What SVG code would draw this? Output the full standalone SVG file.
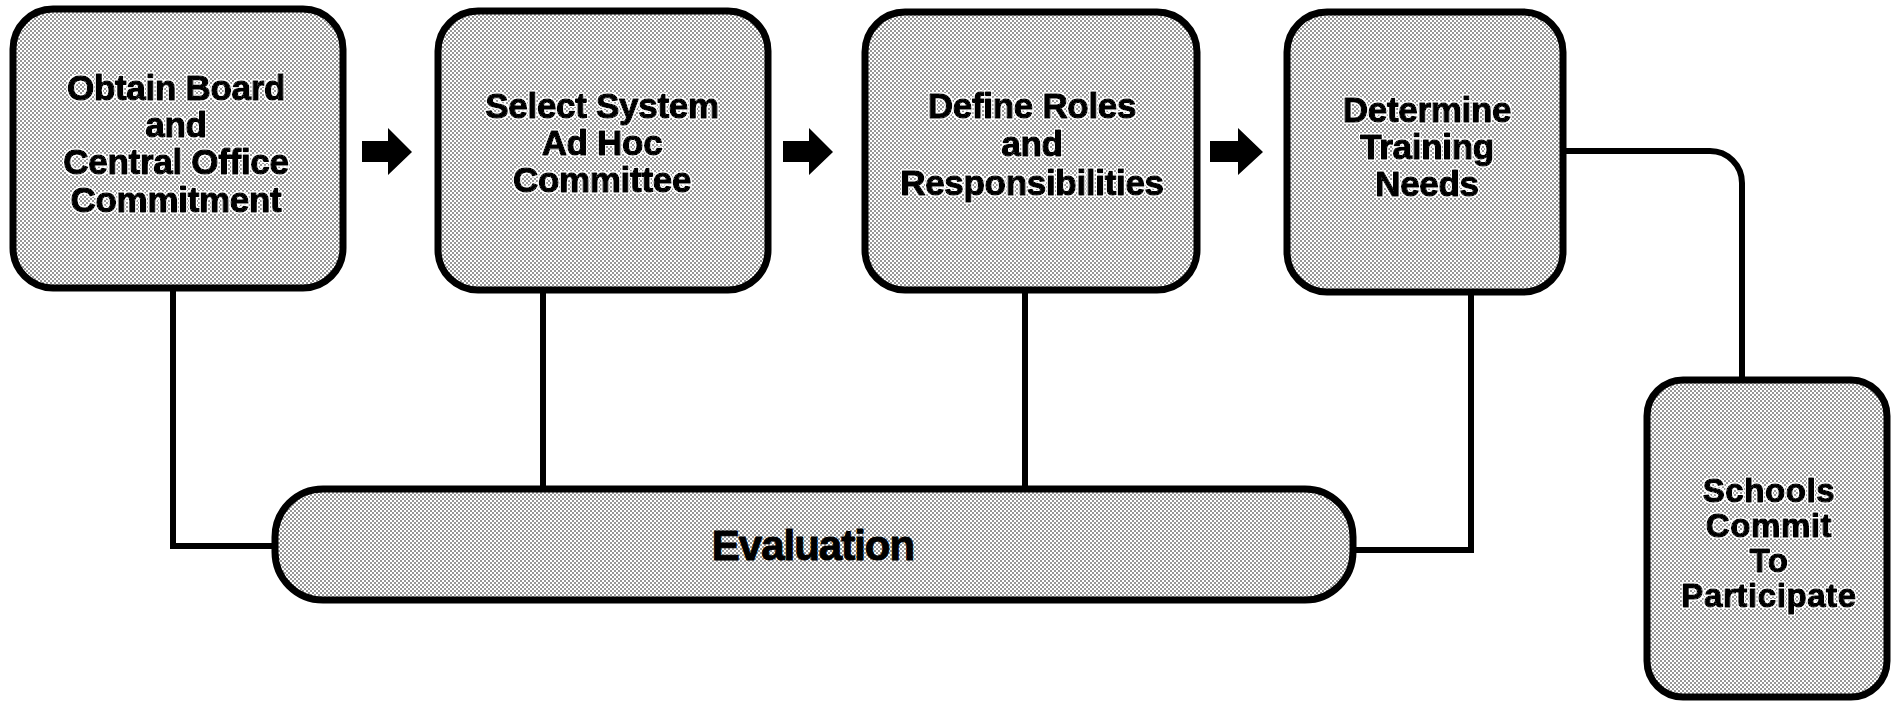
<svg xmlns="http://www.w3.org/2000/svg" width="1895" height="705" viewBox="0 0 1895 705">
<defs>
<pattern id="dots" width="4" height="4" patternUnits="userSpaceOnUse">
<rect width="4" height="4" fill="#fff"/>
<circle cx="1" cy="1" r="0.8" fill="#111"/>
<circle cx="3" cy="3" r="0.8" fill="#111"/>
</pattern>
<filter id="halo" x="-5%" y="-20%" width="110%" height="140%">
<feMorphology in="SourceAlpha" operator="dilate" radius="1" result="d"/>
<feFlood flood-color="#fff"/>
<feComposite in2="d" operator="in" result="w"/>
<feMerge><feMergeNode in="w"/><feMergeNode in="SourceGraphic"/></feMerge>
</filter>
<style>
.box{fill:url(#dots);stroke:#000;stroke-width:7}
.lbl{font-family:"Liberation Sans",Arial,sans-serif;font-weight:bold;font-size:35px;fill:#000;text-anchor:middle;stroke:#000;stroke-width:1.4;stroke-linejoin:round;letter-spacing:-0.3px;filter:url(#halo)}
.sm{font-size:33px;letter-spacing:0.6px}
.ev{font-size:42px;letter-spacing:-1px;stroke-width:1;filter:none}
.con{fill:none;stroke:#000;stroke-width:6}
.arr{fill:#000}
</style>
</defs>
<g id="connectors">
<path class="con" d="M173,288 V546 H275"/>
<path class="con" d="M543,290 V489"/>
<path class="con" d="M1025,290 V489"/>
<path class="con" d="M1471,292 V550 H1353"/>
<path class="con" d="M1563,151 H1710 A32,32 0 0 1 1742,183 V380"/>
<path class="arr" d="M362,141 H388 V128 L412,152 L388,175 V162 H362 Z"/>
<path class="arr" d="M783,141 H809 V128 L833,152 L809,175 V162 H783 Z"/>
<path class="arr" d="M1210,141 H1238 V128 L1263,152 L1238,175 V162 H1210 Z"/>
</g>
<g id="n1">
<rect class="box" x="13" y="9" width="330" height="279" rx="40"/>
<text class="lbl" x="176" y="100">Obtain Board</text>
<text class="lbl" x="176" y="137">and</text>
<text class="lbl" x="176" y="174">Central Office</text>
<text class="lbl" x="176" y="212">Commitment</text>
</g>
<g id="n2">
<rect class="box" x="438" y="11" width="330" height="279" rx="40"/>
<text class="lbl" x="602" y="118">Select System</text>
<text class="lbl" x="602" y="155">Ad Hoc</text>
<text class="lbl" x="602" y="192">Committee</text>
</g>
<g id="n3">
<rect class="box" x="865" y="12" width="332" height="278" rx="40"/>
<text class="lbl" x="1032" y="118">Define Roles</text>
<text class="lbl" x="1032" y="156">and</text>
<text class="lbl" x="1032" y="195">Responsibilities</text>
</g>
<g id="n4">
<rect class="box" x="1287" y="12" width="276" height="280" rx="40"/>
<text class="lbl" x="1427" y="122">Determine</text>
<text class="lbl" x="1427" y="159">Training</text>
<text class="lbl" x="1427" y="196">Needs</text>
</g>
<g id="n5">
<rect class="box" x="1647" y="380" width="240" height="317" rx="36"/>
<text class="lbl sm" x="1769" y="502">Schools</text>
<text class="lbl sm" x="1769" y="537">Commit</text>
<text class="lbl sm" x="1769" y="572">To</text>
<text class="lbl sm" x="1769" y="607">Participate</text>
</g>
<g id="evaluation">
<rect class="box" x="275" y="489" width="1078" height="111" rx="48"/>
<text class="lbl ev" x="813" y="560">Evaluation</text>
</g>
</svg>
